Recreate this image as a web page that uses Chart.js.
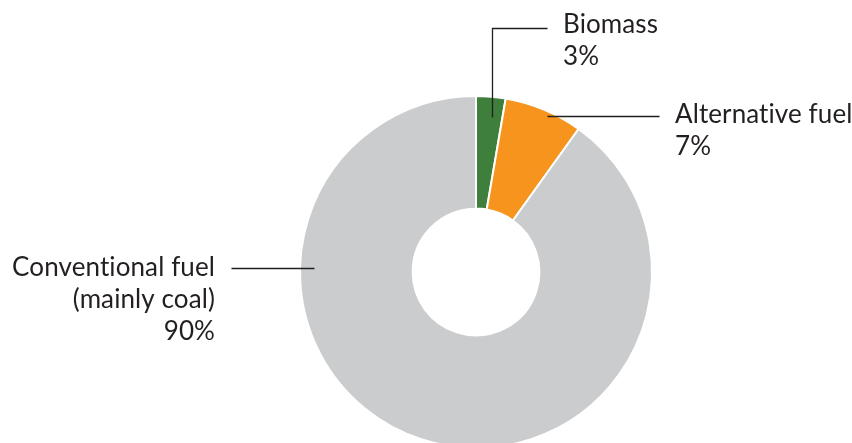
<!DOCTYPE html>
<html>
<head>
<meta charset="utf-8">
<script src="https://cdn.jsdelivr.net/npm/chart.js@4"></script>
<style>
    html, body { margin: 0; padding: 0; background: #fff; overflow: hidden; }
    #wrap { width: 852px; height: 443px; overflow: hidden; }
</style>
</head>
<body>
<div id="wrap"><canvas id="fuelChart" width="852" height="544"></canvas></div>
<script>
var categories = ['Biomass', 'Alternative fuel', 'Conventional fuel'];
var shares = [2.7, 7.2, 90.1];
var shareLabels = ['3%', '7%', '90%'];
var labelLines = [['Biomass'], ['Alternative fuel'], ['Conventional fuel', '(mainly coal)']];
var colors = ['#3f7f3c', '#f7941e', '#cbccce'];

// leader lines and text, offsets from the centre of the doughnut
var callouts = [
    { path: [[16, -155], [16, -244], [71, -244]], text: [87, -247], align: 'left' },
    { path: [[71, -156], [183, -156]], text: [199, -157], align: 'left' },
    { path: [[-162, -4], [-245, -4]], text: [-261, -4], align: 'right' }
];

var calloutPlugin = {
    id: 'callouts',
    afterDraw: function (chart) {
        var ctx = chart.ctx;
        var arc = chart.getDatasetMeta(0).data[0];
        var cx = Math.round(arc.x), cy = Math.round(arc.y);
        ctx.save();
        ctx.strokeStyle = '#231f20';
        ctx.lineWidth = 1.3;
        ctx.fillStyle = '#231f20';
        ctx.font = '26px Lato';
        ctx.letterSpacing = '0.1px'; // keeps Lato from joining "ti"
        ctx.textBaseline = 'middle';
        callouts.forEach(function (c, i) {
            ctx.beginPath();
            c.path.forEach(function (p, j) {
                if (j === 0) ctx.moveTo(cx + p[0] + 0.5, cy + p[1] + 0.5);
                else ctx.lineTo(cx + p[0] + 0.5, cy + p[1] + 0.5);
            });
            ctx.stroke();
            ctx.textAlign = c.align;
            var lines = labelLines[i].concat([shareLabels[i]]);
            lines.forEach(function (t, k) {
                ctx.fillText(t, cx + c.text[0], cy + c.text[1] + k * 32);
            });
        });
        ctx.restore();
    }
};

var ctx = document.getElementById('fuelChart').getContext('2d');
var fuelChart = new Chart(ctx, {
    type: 'doughnut',
    data: {
        labels: categories,
        datasets: [{
            data: shares,
            backgroundColor: colors,
            borderColor: '#ffffff',
            borderWidth: 2
        }]
    },
    options: {
        responsive: false,
        animation: false,
        cutout: '36%',
        layout: { padding: { left: 250, right: 150, top: 95, bottom: 95 } },
        plugins: {
            legend: { display: false },
            tooltip: { enabled: false }
        }
    },
    plugins: [calloutPlugin]
});
</script>
</body>
</html>
